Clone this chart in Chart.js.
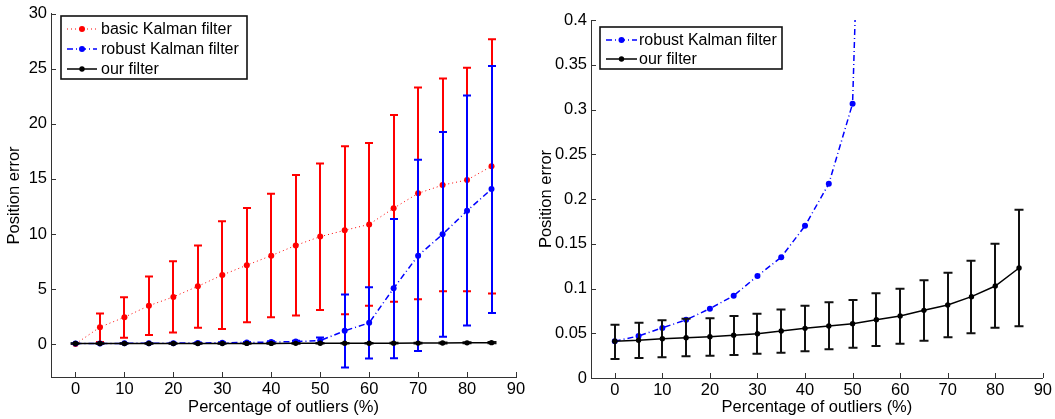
<!DOCTYPE html>
<html><head><meta charset="utf-8">
<script src="https://cdn.jsdelivr.net/npm/chart.js@4"></script>
<style>
html,body{margin:0;padding:0;background:#fff;}
#wrap{position:relative;width:1055px;height:419px;}
.box{position:absolute;top:0;height:419px;}
</style></head><body>
<div id="wrap">
<div class="box" style="left:0;width:530px"><canvas id="c1"></canvas></div>
<div class="box" style="left:530px;width:525px"><canvas id="c2"></canvas></div>
</div>
<script>
// ---------- data ----------
const outliers = [0,5,10,15,20,25,30,35,40,45,50,55,60,65,70,75,80,85];

const basicMean  = [0,1.53,2.43,3.48,4.28,5.24,6.27,7.16,8.03,8.96,9.76,10.33,10.87,12.34,13.69,14.44,14.91,16.15];
const basicUpper = [0,2.76,4.25,6.14,7.52,8.96,11.15,12.37,13.66,15.36,16.41,17.97,18.27,20.82,23.3,24.14,25.1,27.7];
const basicLower = [0,0.18,0.57,0.81,1.05,1.47,1.37,1.98,2.43,2.6,3.09,2.7,3.47,3.83,4.07,4.79,4.79,4.58];

const robustMean  = [0.041,0.047,0.056,0.065,0.0775,0.092,0.114,0.135,0.17,0.217,0.3065,1.2,1.92,5.06,8.03,9.97,12.1,14.08];
const robustUpper = [0.06,0.07,0.08,0.09,0.11,0.13,0.16,0.19,0.24,0.3,0.6,4.49,5.15,11.35,16.74,19.26,22.58,25.27];
const robustLower = [0.03,0.03,0.035,0.04,0.05,0.06,0.07,0.08,0.1,0.13,0.1,-2.13,-1.32,-1.29,-0.63,0.66,1.68,2.81];

const oursMean  = [0.041,0.0421,0.0439,0.045,0.0462,0.0477,0.0495,0.0525,0.0555,0.0581,0.0607,0.0652,0.0693,0.0756,0.0816,0.0909,0.1028,0.1229];
const oursUpper = [0.0596,0.0618,0.0644,0.0663,0.0667,0.0693,0.0719,0.0764,0.0808,0.0846,0.0872,0.0946,0.0998,0.1091,0.1177,0.131,0.15,0.188];
const oursLower = [0.0212,0.0223,0.0231,0.0242,0.0249,0.0257,0.0272,0.0283,0.0298,0.032,0.0339,0.0358,0.0384,0.0417,0.0454,0.0499,0.0562,0.0577];

const xTicks = [0,10,20,30,40,50,60,70,80,90];
const leftYTicks = [0,5,10,15,20,25,30];
const rightYTicks = [0,0.05,0.1,0.15,0.2,0.25,0.3,0.35,0.4];

const labelBasic = 'basic Kalman filter';
const labelRobust = 'robust Kalman filter';
const labelOurs = 'our filter';
const xTitle = 'Percentage of outliers (%)';
const yTitle = 'Position error';

// ---------- helpers ----------
const FONT = 'Liberation Sans, Arial, Helvetica, sans-serif';
const FS = 16.5;
const LFS = 16;
const pts = (ys) => outliers.map((x,i)=>({x:x, y:ys[i]}));

const errPlugin = {
  id: 'errbars',
  beforeDatasetDraw(chart, args) {
    const ds = chart.data.datasets[args.index];
    if (!ds.errUpper) return;
    const ctx = chart.ctx, xs = chart.scales.x, ys = chart.scales.y, a = chart.chartArea;
    ctx.save();
    ctx.beginPath(); ctx.rect(a.left, a.top-1, a.right-a.left+1, a.bottom-a.top+1); ctx.clip();
    ctx.strokeStyle = ds.errColor; ctx.lineWidth = ds.errWidth; ctx.setLineDash([]);
    const cap = ds.errCap;
    for (let i=0;i<outliers.length;i++){
      const x = Math.round(xs.getPixelForValue(outliers[i]));
      const yu = ys.getPixelForValue(ds.errUpper[i]);
      const yl = ys.getPixelForValue(ds.errLower[i]);
      ctx.beginPath();
      ctx.moveTo(x, yu); ctx.lineTo(x, yl);
      ctx.moveTo(x-cap, yu); ctx.lineTo(x+cap, yu);
      ctx.moveTo(x-cap, yl); ctx.lineTo(x+cap, yl);
      ctx.stroke();
    }
    ctx.restore();
  }
};

const tickPlugin = {
  id: 'inticks',
  afterDraw(chart) {
    const ctx = chart.ctx, xs = chart.scales.x, ys = chart.scales.y, a = chart.chartArea;
    ctx.save();
    ctx.strokeStyle = '#333'; ctx.lineWidth = 1;
    ctx.beginPath();
    xs.ticks.forEach(t => { const x = Math.round(xs.getPixelForValue(t.value))+0.5; ctx.moveTo(x, a.bottom); ctx.lineTo(x, a.bottom-5); });
    ys.ticks.forEach(t => { const y = Math.round(ys.getPixelForValue(t.value))+0.5; ctx.moveTo(a.left, y); ctx.lineTo(a.left+5, y); });
    ctx.stroke();
    ctx.restore();
  }
};

const legendPlugin = {
  id: 'mlegend',
  afterDraw(chart, args, opts) {
    if (!opts || !opts.box) return;
    const ctx = chart.ctx;
    const [bx,by,bw,bh] = opts.box;
    ctx.save();
    ctx.fillStyle = '#fff'; ctx.fillRect(bx,by,bw,bh);
    ctx.strokeStyle = '#111'; ctx.lineWidth = 1.6; ctx.setLineDash([]);
    ctx.strokeRect(bx,by,bw,bh);
    ctx.font = LFS + 'px ' + FONT; ctx.textBaseline = 'middle'; ctx.textAlign = 'left';
    opts.items.forEach(it => {
      const ds = chart.data.datasets[it.ds];
      ctx.strokeStyle = ds.borderColor; ctx.lineWidth = ds.borderWidth;
      ctx.setLineDash(ds.borderDash || []);
      ctx.beginPath(); ctx.moveTo(opts.lx0, it.y); ctx.lineTo(opts.lx1, it.y); ctx.stroke();
      ctx.setLineDash([]);
      ctx.fillStyle = ds.pointBackgroundColor;
      ctx.beginPath(); ctx.arc((opts.lx0+opts.lx1)/2, it.y, ds.pointRadius, 0, Math.PI*2); ctx.fill();
      ctx.fillStyle = '#000';
      ctx.fillText(ds.label, opts.tx, it.y+1);
    });
    ctx.restore();
  }
};

function makeOptions(cfg) {
  return {
    responsive: true, maintainAspectRatio: false, animation: false, devicePixelRatio: 1,
    layout: { padding: { top: cfg.padTop, right: cfg.padRight, left: 0, bottom: 0 } },
    plugins: { legend: { display: false }, tooltip: { enabled: false }, mlegend: cfg.legend },
    scales: {
      x: {
        type: 'linear', min: -5, max: 90,
        afterBuildTicks: s => { s.ticks = xTicks.map(v => ({value: v})); },
        afterFit: s => { s.height = cfg.xh; },
        grid: { display: false, drawTicks: false },
        border: { display: true, color: '#333', width: 1 },
        ticks: { color: '#000', font: { family: FONT, size: FS }, padding: 3, maxRotation: 0, autoSkip: false },
        title: { display: true, text: xTitle, color: '#000', font: { family: FONT, size: FS }, padding: { top: 0, bottom: 2 } }
      },
      y: {
        type: 'linear', min: cfg.ymin, max: cfg.ymax,
        afterBuildTicks: s => { s.ticks = cfg.yticks.map(v => ({value: v})); },
        afterFit: s => { s.width = cfg.yw; },
        grid: { display: false, drawTicks: false },
        border: { display: true, color: '#333', width: 1 },
        ticks: { color: '#000', font: { family: FONT, size: FS }, padding: 4, autoSkip: false,
                 callback: v => String(+Number(v).toFixed(2)) },
        title: { display: true, text: yTitle, color: '#000', font: { family: FONT, size: FS }, padding: { top: cfg.ytPad, bottom: 0 } }
      }
    }
  };
}

const dsBasic = () => ({ label: labelBasic, data: pts(basicMean), borderColor: '#ff0000', borderWidth: 1, borderDash: [1,3],
  pointRadius: 3, pointBackgroundColor: '#ff0000', pointBorderWidth: 0, pointBorderColor: '#ff0000', tension: 0, order: 3,
  errUpper: basicUpper, errLower: basicLower, errColor: '#ff0000', errWidth: 2, errCap: 4 });
const dsRobust = (withErr) => Object.assign({ label: labelRobust, data: pts(robustMean), borderColor: '#0000ff', borderWidth: 1.5, borderDash: [6,3,1,3],
  pointRadius: 3, pointBackgroundColor: '#0000ff', pointBorderWidth: 0, pointBorderColor: '#0000ff', tension: 0, order: 2 },
  withErr ? { errUpper: robustUpper, errLower: robustLower, errColor: '#0000ff', errWidth: 2, errCap: 4 } : {});
const dsOurs = () => ({ label: labelOurs, data: pts(oursMean), borderColor: '#000000', borderWidth: 1.5, borderDash: [],
  pointRadius: 2.7, pointBackgroundColor: '#000000', pointBorderWidth: 0, pointBorderColor: '#000', tension: 0, order: 1,
  errUpper: oursUpper, errLower: oursLower, errColor: '#111', errWidth: 2, errCap: 4.5 });

new Chart(document.getElementById('c1'), {
  type: 'line',
  data: { datasets: [dsBasic(), dsRobust(true), dsOurs()] },
  options: makeOptions({ padTop: 9, padRight: 14, xh: 42, yw: 51, ymin: -3, ymax: 30, yticks: leftYTicks, ytPad: 5,
    legend: { box: [61,16,186,63], lx0: 67, lx1: 97, tx: 101, items: [{ds:0,y:29},{ds:1,y:49},{ds:2,y:69}] } }),
  plugins: [errPlugin, tickPlugin, legendPlugin]
});

new Chart(document.getElementById('c2'), {
  type: 'line',
  data: { datasets: [dsRobust(false), dsOurs()] },
  options: makeOptions({ padTop: 20, padRight: 12, xh: 41, yw: 61, ymin: 0, ymax: 0.4, yticks: rightYTicks, ytPad: 7,
    legend: { box: [70,27,182,42], lx0: 76, lx1: 107, tx: 109, items: [{ds:0,y:40},{ds:1,y:59}] } }),
  plugins: [errPlugin, tickPlugin, legendPlugin]
});
</script>
</body></html>
